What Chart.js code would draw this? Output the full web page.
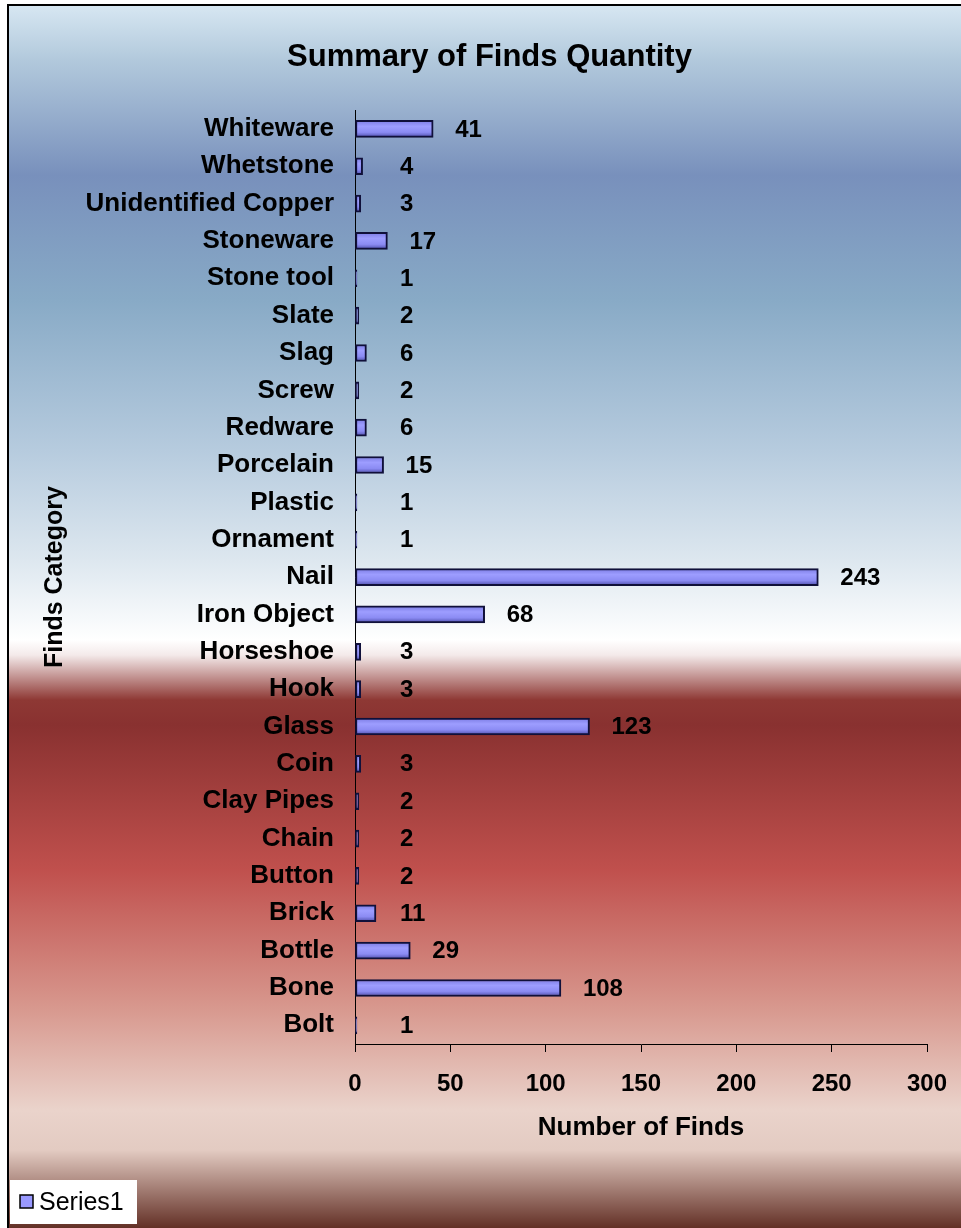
<!DOCTYPE html>
<html>
<head>
<meta charset="utf-8">
<title>Summary of Finds Quantity</title>
<script src="https://cdn.jsdelivr.net/npm/chart.js@4.4.1/dist/chart.umd.min.js"></script>
<style>
  html, body { margin: 0; padding: 0; background: #fff; }
  canvas { display: block; }
</style>
</head>
<body>
<canvas id="findsChart" width="961" height="1228"></canvas>
<script>
const chartTitle = "Summary of Finds Quantity";
const xAxisTitle = "Number of Finds";
const yAxisTitle = "Finds Category";
const seriesName = "Series1";

// top to bottom
const findsCategories = [
  "Whiteware", "Whetstone", "Unidentified Copper", "Stoneware", "Stone tool",
  "Slate", "Slag", "Screw", "Redware", "Porcelain", "Plastic", "Ornament",
  "Nail", "Iron Object", "Horseshoe", "Hook", "Glass", "Coin", "Clay Pipes",
  "Chain", "Button", "Brick", "Bottle", "Bone", "Bolt",
];
const findsCounts = [
  41, 4, 3, 17, 1,
  2, 6, 2, 6, 15, 1, 1,
  243, 68, 3, 3, 123, 3, 2,
  2, 2, 11, 29, 108, 1,
];
const xTicks = [0, 50, 100, 150, 200, 250, 300];

const FONT = '"Liberation Sans", Arial, sans-serif';
const canvas = document.getElementById("findsChart");
const ctx = canvas.getContext("2d");

// frame + blue/white/red background of the chart object
const backgroundPlugin = {
  id: "frameBackground",
  beforeDraw(chart) {
    const c = chart.ctx;
    const w = chart.width;
    const h = chart.height;
    c.save();
    c.fillStyle = "#ffffff";
    c.fillRect(0, 0, w, h);
    const g = c.createLinearGradient(0, 5, 0, h);
    const stops = [
      [5, "#d7e7f2"],
      [60, "#b2c9dc"],
      [175, "#7890bc"],
      [300, "#88aac6"],
      [450, "#b6cbde"],
      [560, "#dde7ef"],
      [640, "#ffffff"],
      [655, "#f4eaea"],
      [700, "#8e3834"],
      [725, "#893130"],
      [870, "#c0504d"],
      [1010, "#d8998f"],
      [1110, "#ead3cb"],
      [1150, "#e3cbc2"],
      [1228, "#633026"],
    ];
    stops.forEach(([y, col]) => g.addColorStop((y - 5) / (h - 5), col));
    c.fillStyle = g;
    c.fillRect(8, 5, w - 8, h - 5);
    c.strokeStyle = "#000";
    c.lineWidth = 2;
    c.beginPath();
    c.moveTo(8, h);
    c.lineTo(8, 5);
    c.lineTo(w, 5);
    c.stroke();
    c.restore();
  },
};

// value labels to the right of each bar
const valueLabelPlugin = {
  id: "valueLabels",
  afterDatasetsDraw(chart) {
    const c = chart.ctx;
    const meta = chart.getDatasetMeta(0);
    c.save();
    c.font = "bold 24px " + FONT;
    c.fillStyle = "#000";
    c.textAlign = "left";
    c.textBaseline = "middle";
    meta.data.forEach((bar, i) => {
      const x = Math.max(bar.x + 22, 400);
      c.fillText(String(chart.data.datasets[0].data[i]), x, bar.y + 1);
    });
    c.restore();
  },
};

// small white legend box in the bottom left corner
const legendBoxPlugin = {
  id: "legendBox",
  afterDraw(chart) {
    const c = chart.ctx;
    c.save();
    c.fillStyle = "#ffffff";
    c.fillRect(10, 1180, 127, 44);
    c.fillStyle = "#9999ff";
    c.fillRect(20, 1195, 13, 13);
    c.strokeStyle = "#000";
    c.lineWidth = 1.5;
    c.strokeRect(20, 1195, 13, 13);
    c.fillStyle = "#000";
    c.font = "25px " + FONT;
    c.textAlign = "left";
    c.textBaseline = "middle";
    c.fillText(chart.data.datasets[0].label, 39, 1203);
    c.restore();
  },
};

function barFill(context) {
  const chart = context.chart;
  if (!chart.chartArea) return "#9999ff";
  const y = chart.scales.y.getPixelForValue(context.dataIndex);
  const g = chart.ctx.createLinearGradient(0, y - 8.5, 0, y + 8.5);
  g.addColorStop(0, "#7b7be2");
  g.addColorStop(0.35, "#9d9dff");
  g.addColorStop(0.7, "#8b8bf3");
  g.addColorStop(1, "#4d4daa");
  return g;
}

const chartInstance = new Chart(ctx, {
  type: "bar",
  data: {
    labels: findsCategories,
    datasets: [
      {
        label: seriesName,
        data: findsCounts,
        backgroundColor: barFill,
        borderColor: "#10103a",
        borderWidth: 2,
        borderSkipped: false,
        barThickness: 17,
      },
    ],
  },
  options: {
    indexAxis: "y",
    responsive: false,
    animation: false,
    layout: { padding: { left: 52, right: 34, top: 39, bottom: 85 } },
    plugins: {
      legend: { display: false },
      tooltip: { enabled: false },
      title: {
        display: true,
        text: chartTitle,
        color: "#000",
        font: { family: FONT, size: 31, weight: "bold" },
        padding: { top: 0, bottom: 34 },
      },
    },
    scales: {
      x: {
        min: 0,
        max: 300,
        afterBuildTicks: (scale) => {
          scale.ticks = xTicks.map((v) => ({ value: v }));
        },
        ticks: {
          color: "#000",
          font: { family: FONT, size: 24, weight: "bold" },
          padding: 18,
          maxRotation: 0,
        },
        grid: {
          drawOnChartArea: false,
          drawTicks: true,
          tickLength: 8,
          color: "#000",
        },
        border: { display: true, color: "#000", width: 1 },
        title: {
          display: true,
          text: xAxisTitle,
          color: "#000",
          font: { family: FONT, size: 26, weight: "bold" },
          padding: { top: 0, bottom: 0 },
        },
        afterFit: (scale) => {
          scale.height = 99;
          scale.paddingLeft = 0;
          scale.paddingRight = 0;
        },
      },
      y: {
        ticks: {
          color: "#000",
          font: { family: FONT, size: 26, weight: "bold" },
          padding: 21,
          autoSkip: false,
        },
        grid: { display: false, drawTicks: false },
        border: { display: true, color: "#000", width: 1 },
        title: {
          display: true,
          text: yAxisTitle,
          color: "#000",
          font: { family: FONT, size: 25, weight: "bold" },
          padding: { top: -12, bottom: 0 },
        },
        afterFit: (scale) => {
          scale.width = 303;
        },
      },
    },
  },
  plugins: [backgroundPlugin, valueLabelPlugin, legendBoxPlugin],
});
</script>
</body>
</html>
